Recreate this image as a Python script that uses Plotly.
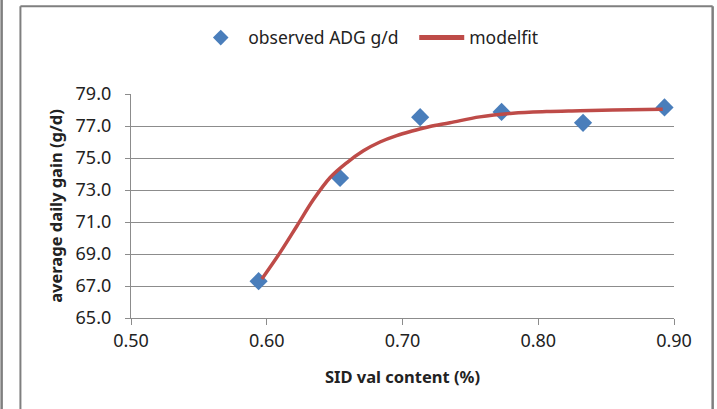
import plotly.graph_objects as go

# observed data
obs_x = [0.594, 0.654, 0.713, 0.773, 0.833, 0.893]
obs_y = [67.3, 73.75, 77.55, 77.88, 77.2, 78.16]

# model fit curve
fit_x = [0.5964, 0.6099, 0.6222, 0.6344, 0.6467, 0.6589, 0.6712, 0.6834, 0.6957,
         0.7079, 0.7202, 0.7349, 0.7569, 0.7813, 0.8061, 0.8306, 0.8549, 0.8917]
fit_y = [67.44, 69.1, 70.75, 72.4, 73.78, 74.7, 75.45, 76.0, 76.4,
         76.7, 76.97, 77.2, 77.57, 77.8, 77.9, 77.95, 78.0, 78.05]

x_ticks = [0.5, 0.6, 0.7, 0.8, 0.9]
x_tick_labels = ["0.50", "0.60", "0.70", "0.80", "0.90"]
y_ticks = [65, 67, 69, 71, 73, 75, 77, 79]
y_tick_labels = ["65.0", "67.0", "69.0", "71.0", "73.0", "75.0", "77.0", "79.0"]

FONT = "Noto Sans"
GRID = "#8c8c8c"
TXT = "#222222"

fig = go.Figure()
fig.add_trace(go.Scatter(
    x=obs_x, y=obs_y, mode="markers", name="observed ADG g/d",
    marker=dict(symbol="diamond", size=14, color="#4a7ebb"),
))
fig.add_trace(go.Scatter(
    x=fit_x, y=fit_y, mode="lines", name="modelfit",
    line=dict(color="#be4b48", width=3.5, shape="spline"),
))

# frame helpers (pixel -> paper)
L, R, T, B = 130.7, 42.7, 94.3, 90.7
W, H = 717 - L - R, 409 - T - B
def px(x):
    return (x - L) / W
def py(y):
    return (409 - B - y) / H

shapes = [
    dict(type="line", xref="paper", yref="paper", x0=px(1.2), x1=px(1.2), y0=py(-5), y1=py(415),
         line=dict(color="#7f7f7f", width=2.5)),
    dict(type="line", xref="paper", yref="paper", x0=px(20), x1=px(20), y0=py(6.5), y1=py(415),
         line=dict(color="#7f7f7f", width=2)),
    dict(type="line", xref="paper", yref="paper", x0=px(713), x1=px(713), y0=py(6.5), y1=py(415),
         line=dict(color="#7f7f7f", width=2.5)),
    dict(type="line", xref="paper", yref="paper", x0=px(20), x1=px(713), y0=py(6.5), y1=py(6.5),
         line=dict(color="#7f7f7f", width=2)),
]

fig.update_layout(
    width=717, height=409,
    margin=dict(l=L, r=R, t=T, b=B),
    paper_bgcolor="white", plot_bgcolor="white",
    font=dict(family=FONT, color=TXT),
    showlegend=True,
    legend=dict(orientation="h", x=px(193), y=py(38), xanchor="left", yanchor="middle",
                font=dict(size=17.5, family=FONT, color=TXT), bgcolor="rgba(0,0,0,0)",
                itemsizing="constant", itemwidth=45, entrywidth=161, entrywidthmode="pixels"),
    shapes=shapes,
    xaxis=dict(range=[0.5, 0.9], tickvals=x_ticks, ticktext=x_tick_labels,
               showgrid=False, zeroline=False, showline=True, linecolor=GRID, linewidth=1.2,
               ticks="outside", ticklen=6, tickcolor=GRID,
               tickfont=dict(size=18, family=FONT, color=TXT),
               title=dict(text="<b>SID val content (%)</b>", font=dict(size=16.5, family=FONT, color=TXT),
                          standoff=20)),
    yaxis=dict(range=[65, 79], tickvals=y_ticks, ticktext=y_tick_labels,
               showgrid=True, gridcolor=GRID, gridwidth=1.2, zeroline=False,
               showline=True, linecolor=GRID, linewidth=1.2,
               ticks="outside", ticklen=5, tickcolor=GRID, ticklabelstandoff=10,
               tickfont=dict(size=18, family=FONT, color=TXT),
               title=dict(text="<b>average daily gain (g/d)</b>", font=dict(size=16.5, family=FONT, color=TXT),
                          standoff=8)),
)

fig.write_html("out.html", config={"displayModeBar": False},
               post_script="document.body.style.margin='0px';")
